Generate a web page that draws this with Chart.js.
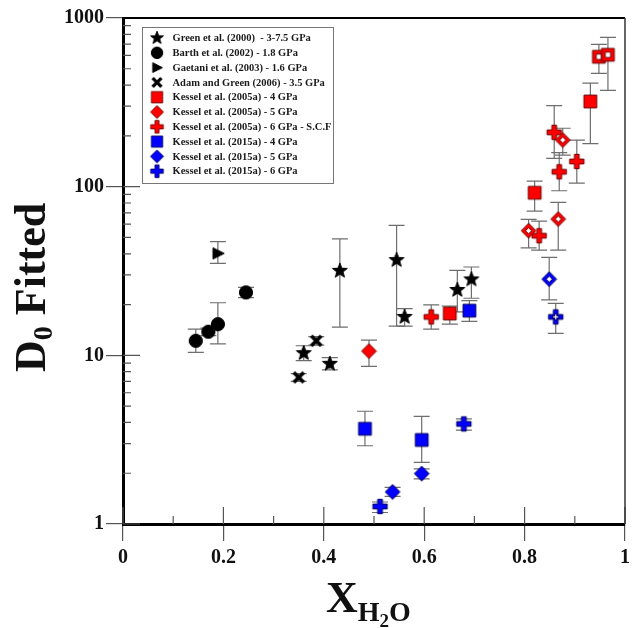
<!DOCTYPE html>
<html>
<head>
<meta charset="utf-8">
<script src="https://cdn.jsdelivr.net/npm/chart.js@4.4.1/dist/chart.umd.min.js"></script>
<style>
html,body{margin:0;padding:0;background:#fff;}
#wrap{width:632px;height:628px;}
</style>
</head>
<body>
<div id="wrap"><canvas id="d0Chart" width="632" height="628"></canvas></div>
<script>
// ---------------- data: x = X(H2O), y = D0 fitted, hi/lo = error bar ends ----------------
var greenX  = [0.360, 0.412, 0.432, 0.545, 0.561, 0.666, 0.694];
var greenY  = [10.3, 8.9, 31.7, 36.7, 16.9, 24.4, 28.2];
var greenHi = [11.4, 9.7, 49, 59, 18.9, 31.9, 33.4];
var greenLo = [9.3, 8.2, 14.7, 14.9, 14.9, 18.1, 21.8];

var barthX  = [0.145, 0.170, 0.189, 0.245];
var barthY  = [12.2, 13.8, 15.3, 23.6];
var barthHi = [14.3, 14.5, 20.5, 25.3];
var barthLo = [10.4, 13.1, 11.7, 22.0];

var gaetaniX  = [0.189];
var gaetaniY  = [40.2];
var gaetaniHi = [47.2];
var gaetaniLo = [35.1];

var adamX  = [0.350, 0.385];
var adamY  = [7.4, 12.2];
var adamHi = [7.8, 12.9];
var adamLo = [7.0, 11.5];

var k05_4X    = [0.651, 0.820, 0.931, 0.948, 0.966];
var k05_4Y    = [17.7, 92, 320, 589, 605];
var k05_4Hi   = [19.6, 108, 411, 697, 767];
var k05_4Lo   = [15.3, 71.7, 180, 470, 372];
var k05_4Open = [0, 0, 0, 1, 1];

var k05_5X    = [0.490, 0.808, 0.867, 0.876];
var k05_5Y    = [10.6, 54.8, 64.3, 189];
var k05_5Hi   = [12.3, 64, 80.7, 222];
var k05_5Lo   = [8.6, 43.4, 42, 154];
var k05_5Open = [0, 1, 1, 1];

var k05_6X  = [0.614, 0.829, 0.859, 0.869, 0.904];
var k05_6Y  = [16.9, 51.2, 210, 122.5, 141];
var k05_6Hi = [19.9, 62.5, 302, 159, 189];
var k05_6Lo = [14.3, 42.1, 147, 94.6, 105];

var k15_4X  = [0.482, 0.595, 0.690];
var k15_4Y  = [3.67, 3.15, 18.4];
var k15_4Hi = [4.66, 4.35, 21.1];
var k15_4Lo = [2.91, 2.32, 15.9];

var k15_5X    = [0.537, 0.595, 0.849];
var k15_5Y    = [1.55, 1.99, 28.3];
var k15_5Hi   = [1.65, 2.12, 38.1];
var k15_5Lo   = [1.46, 1.85, 21.3];
var k15_5Open = [0, 0, 1];

var k15_6X    = [0.512, 0.679, 0.862];
var k15_6Y    = [1.27, 3.92, 16.9];
var k15_6Hi   = [1.35, 4.2, 20.3];
var k15_6Lo   = [1.17, 3.6, 13.5];
var k15_6Open = [0, 0, 1];

var xTickVals  = [0, 0.2, 0.4, 0.6, 0.8, 1];
var xMinorVals = [0.1, 0.3, 0.5, 0.7, 0.9];
var yTickVals  = [1, 10, 100, 1000];

var serif = '"Liberation Serif", "Times New Roman", serif';

// ---------------- marker images ----------------
function shapePath(g, shape, r)
{
	g.beginPath();
	if(shape === 'star')
	{
		for(var k=0;k<10;k++)
		{
			var rr = (k%2===0) ? r : r*0.42;
			var a = -Math.PI/2 + k*Math.PI/5;
			if(k===0) g.moveTo(rr*Math.cos(a), rr*Math.sin(a)); else g.lineTo(rr*Math.cos(a), rr*Math.sin(a));
		}
	}
	else if(shape === 'circle') g.arc(0,0,r,0,Math.PI*2);
	else if(shape === 'triangle') { g.moveTo(-r*0.75,-r*0.85); g.lineTo(r*0.95,0); g.lineTo(-r*0.75,r*0.85); }
	else if(shape === 'square') g.rect(-r,-r,2*r,2*r);
	else if(shape === 'diamond') { g.moveTo(0,-r); g.lineTo(r,0); g.lineTo(0,r); g.lineTo(-r,0); }
	else if(shape === 'plus')
	{
		var a2 = r*0.33;
		g.moveTo(-a2,-r); g.lineTo(a2,-r); g.lineTo(a2,-a2); g.lineTo(r,-a2); g.lineTo(r,a2); g.lineTo(a2,a2);
		g.lineTo(a2,r); g.lineTo(-a2,r); g.lineTo(-a2,a2); g.lineTo(-r,a2); g.lineTo(-r,-a2); g.lineTo(-a2,-a2);
	}
	g.closePath();
}

function makeMarker(shape, r, fill, edge, open)
{
	var size = Math.ceil(r*2+4);
	var c = document.createElement('canvas');
	c.width = size; c.height = size;
	var g = c.getContext('2d');
	g.translate(size/2, size/2);
	if(shape === 'cross')
	{
		g.strokeStyle = fill; g.lineWidth = r*0.75; g.lineCap = 'butt';
		g.beginPath(); g.moveTo(-r,-r); g.lineTo(r,r); g.moveTo(r,-r); g.lineTo(-r,r); g.stroke();
		return c;
	}
	shapePath(g, shape, r);
	g.fillStyle = fill; g.fill();
	g.strokeStyle = edge; g.lineWidth = 1; g.stroke();
	if(open)
	{
		shapePath(g, shape, r*0.42);
		g.fillStyle = '#fff'; g.fill();
		g.strokeStyle = edge; g.lineWidth = 1; g.stroke();
	}
	return c;
}

var RED = '#ff0000', REDEDGE = '#6a0000', BLUE = '#0000ff', BLUEEDGE = '#00005a';

var mk = {
	star:      makeMarker('star', 7.8, '#000', '#000'),
	circle:    makeMarker('circle', 6.6, '#000', '#000'),
	triangle:  makeMarker('triangle', 6.6, '#000', '#000'),
	cross:     makeMarker('cross', 5, '#000', '#000'),
	redSq:     makeMarker('square', 6.4, RED, REDEDGE),
	redSqO:    makeMarker('square', 6.4, RED, REDEDGE, true),
	redDi:     makeMarker('diamond', 7.4, RED, REDEDGE),
	redDiO:    makeMarker('diamond', 7.4, RED, REDEDGE, true),
	redPl:     makeMarker('plus', 7.2, RED, REDEDGE),
	blueSq:    makeMarker('square', 6.4, BLUE, BLUEEDGE),
	blueDi:    makeMarker('diamond', 7.4, BLUE, BLUEEDGE),
	blueDiO:   makeMarker('diamond', 7.4, BLUE, BLUEEDGE, true),
	bluePl:    makeMarker('plus', 7.2, BLUE, BLUEEDGE),
	bluePlO:   makeMarker('plus', 7.2, BLUE, BLUEEDGE, true)
};

function toPoints(xs, ys){ return xs.map(function(x,i){ return {x:x, y:ys[i]}; }); }

function styleFor(solid, hollow, openArr)
{
	if(!openArr) return solid;
	return function(ctx){ return (ctx.dataIndex !== undefined && openArr[ctx.dataIndex]) ? hollow : solid; };
}

function series(label, xs, ys, hi, lo, marker, openArr, hollowMarker)
{
	return {
		label: label,
		data: toPoints(xs, ys),
		errHi: hi,
		errLo: lo,
		legendMarker: marker,
		pointStyle: styleFor(marker, hollowMarker, openArr),
		pointRadius: 6,
		showLine: false
	};
}

var datasets = [
	series('Green et al. (2000)  - 3-7.5 GPa', greenX, greenY, greenHi, greenLo, mk.star),
	series('Barth et al. (2002) - 1.8 GPa', barthX, barthY, barthHi, barthLo, mk.circle),
	series('Gaetani et al. (2003) - 1.6 GPa', gaetaniX, gaetaniY, gaetaniHi, gaetaniLo, mk.triangle),
	series('Adam and Green (2006) - 3.5 GPa', adamX, adamY, adamHi, adamLo, mk.cross),
	series('Kessel et al. (2005a) - 4 GPa', k05_4X, k05_4Y, k05_4Hi, k05_4Lo, mk.redSq, k05_4Open, mk.redSqO),
	series('Kessel et al. (2005a) - 5 GPa', k05_5X, k05_5Y, k05_5Hi, k05_5Lo, mk.redDi, k05_5Open, mk.redDiO),
	series('Kessel et al. (2005a) - 6 GPa - S.C.F', k05_6X, k05_6Y, k05_6Hi, k05_6Lo, mk.redPl),
	series('Kessel et al. (2015a) - 4 GPa', k15_4X, k15_4Y, k15_4Hi, k15_4Lo, mk.blueSq),
	series('Kessel et al. (2015a) - 5 GPa', k15_5X, k15_5Y, k15_5Hi, k15_5Lo, mk.blueDi, k15_5Open, mk.blueDiO),
	series('Kessel et al. (2015a) - 6 GPa', k15_6X, k15_6Y, k15_6Hi, k15_6Lo, mk.bluePl, k15_6Open, mk.bluePlO)
];

// ---------------- plugins ----------------
// vertical error bars with caps, drawn under the markers
var errorBarPlugin = {
	id: 'errorBars',
	beforeDatasetsDraw: function(chart)
	{
		var ctx = chart.ctx, xs = chart.scales.x, ys = chart.scales.y, area = chart.chartArea;
		ctx.save();
		ctx.beginPath(); ctx.rect(area.left, area.top, area.right-area.left, area.bottom-area.top); ctx.clip();
		ctx.strokeStyle = '#6e6e6e';
		ctx.lineWidth = 1.2;
		chart.data.datasets.forEach(function(ds)
		{
			ds.data.forEach(function(p, j)
			{
				var px = xs.getPixelForValue(p.x);
				var top = ys.getPixelForValue(ds.errHi[j]);
				var bot = ys.getPixelForValue(ds.errLo[j]);
				ctx.beginPath();
				ctx.moveTo(px, top); ctx.lineTo(px, bot);
				ctx.moveTo(px-8, top); ctx.lineTo(px+8, top);
				ctx.moveTo(px-8, bot); ctx.lineTo(px+8, bot);
				ctx.stroke();
			});
		});
		ctx.restore();
	}
};

// inner major/minor ticks, top and right frame, axis titles and boxed legend
var framePlugin = {
	id: 'frameAndLabels',
	afterDraw: function(chart)
	{
		var ctx = chart.ctx, xs = chart.scales.x, ys = chart.scales.y, a = chart.chartArea;
		ctx.save();

		ctx.strokeStyle = '#555';
		ctx.lineWidth = 1.2;
		ctx.beginPath();
		xTickVals.forEach(function(v){ var px = xs.getPixelForValue(v); ctx.moveTo(px, a.bottom); ctx.lineTo(px, a.bottom-17); });
		xMinorVals.forEach(function(v){ var px = xs.getPixelForValue(v); ctx.moveTo(px, a.bottom); ctx.lineTo(px, a.bottom-8); });
		yTickVals.forEach(function(v){ var py = ys.getPixelForValue(v); ctx.moveTo(a.left, py); ctx.lineTo(a.left+17, py); });
		for(var d=1; d<1000; d*=10)
		{
			for(var m=2; m<10; m++)
			{
				var py = ys.getPixelForValue(d*m);
				ctx.moveTo(a.left, py); ctx.lineTo(a.left+8, py);
			}
		}
		ctx.stroke();

		// top and right frame
		ctx.strokeStyle = '#000';
		ctx.lineWidth = 2.2;
		ctx.beginPath(); ctx.moveTo(a.left, a.top); ctx.lineTo(a.right, a.top); ctx.stroke();
		ctx.strokeStyle = '#333';
		ctx.lineWidth = 1.5;
		ctx.beginPath(); ctx.moveTo(a.right, a.top); ctx.lineTo(a.right, a.bottom); ctx.stroke();

		// axis titles
		ctx.fillStyle = '#111';
		ctx.textBaseline = 'alphabetic';
		ctx.textAlign = 'left';

		ctx.save();
		ctx.translate(45, 372);
		ctx.rotate(-Math.PI/2);
		ctx.font = 'bold 44px ' + serif;
		ctx.fillText('D', 0, 0);
		var w = ctx.measureText('D').width;
		ctx.font = 'bold 28px ' + serif;
		ctx.fillText('0', w, 7);
		w += ctx.measureText('0').width;
		ctx.font = 'bold 44px ' + serif;
		ctx.fillText(' Fitted', w, 0);
		ctx.restore();

		var x0 = 326;
		ctx.font = 'bold 44px ' + serif;
		ctx.fillText('X', x0, 612);
		x0 += ctx.measureText('X').width;
		ctx.font = 'bold 28px ' + serif;
		ctx.fillText('H', x0, 621);
		x0 += ctx.measureText('H').width;
		ctx.font = 'bold 19px ' + serif;
		ctx.fillText('2', x0, 627);
		x0 += ctx.measureText('2').width;
		ctx.font = 'bold 28px ' + serif;
		ctx.fillText('O', x0, 621);

		// legend box
		ctx.strokeStyle = '#777';
		ctx.lineWidth = 1;
		ctx.fillStyle = '#fff';
		ctx.fillRect(142, 27, 191, 156);
		ctx.strokeRect(142.5, 27.5, 191, 156);
		ctx.font = 'bold 10.5px ' + serif;
		ctx.fillStyle = '#1a1a1a';
		ctx.textBaseline = 'middle';
		chart.data.datasets.forEach(function(ds, i)
		{
			var cy = 38 + i*14.8;
			var img = ds.legendMarker, s = 0.88;
			ctx.drawImage(img, 157 - img.width*s/2, cy - img.height*s/2, img.width*s, img.height*s);
			ctx.fillText(ds.label, 172.5, cy + 0.5);
		});

		ctx.restore();
	}
};

var tickFont = { family: serif, size: 20, weight: 'bold' };

new Chart(document.getElementById('d0Chart'), {
	type: 'scatter',
	data: { datasets: datasets },
	options: {
		responsive: false,
		animation: false,
		events: [],
		layout: { padding: { left: 0, top: 18, right: 2, bottom: 0 } },
		plugins: { legend: { display: false }, tooltip: { enabled: false } },
		scales: {
			x: {
				type: 'linear', min: 0, max: 1,
				afterBuildTicks: function(s){ s.ticks = xTickVals.map(function(v){ return {value:v}; }); },
				afterFit: function(s){ s.height = 104; s.paddingLeft = 0; s.paddingRight = 0; },
				grid: { display: true, drawOnChartArea: false, drawTicks: true, tickLength: 17, color: '#555', lineWidth: 1.2 },
				border: { display: true, color: '#000', width: 3 },
				ticks: {
					font: tickFont, color: '#111', padding: 5, maxRotation: 0, autoSkip: false,
					callback: function(v){ return (v === 0 || v === 1) ? String(v) : v.toFixed(1); }
				}
			},
			y: {
				type: 'logarithmic', min: 1, max: 1000,
				afterBuildTicks: function(s){ s.ticks = yTickVals.map(function(v){ return {value:v}; }); },
				afterFit: function(s){ s.width = 123; s.paddingTop = 0; s.paddingBottom = 0; },
				grid: { display: true, drawOnChartArea: false, drawTicks: true, tickLength: 17, color: '#555', lineWidth: 1.2 },
				border: { display: true, color: '#000', width: 3 },
				ticks: {
					font: tickFont, color: '#111', padding: 2, autoSkip: false,
					callback: function(v){ return String(v); }
				}
			}
		}
	},
	plugins: [errorBarPlugin, framePlugin]
});
</script>
</body>
</html>
